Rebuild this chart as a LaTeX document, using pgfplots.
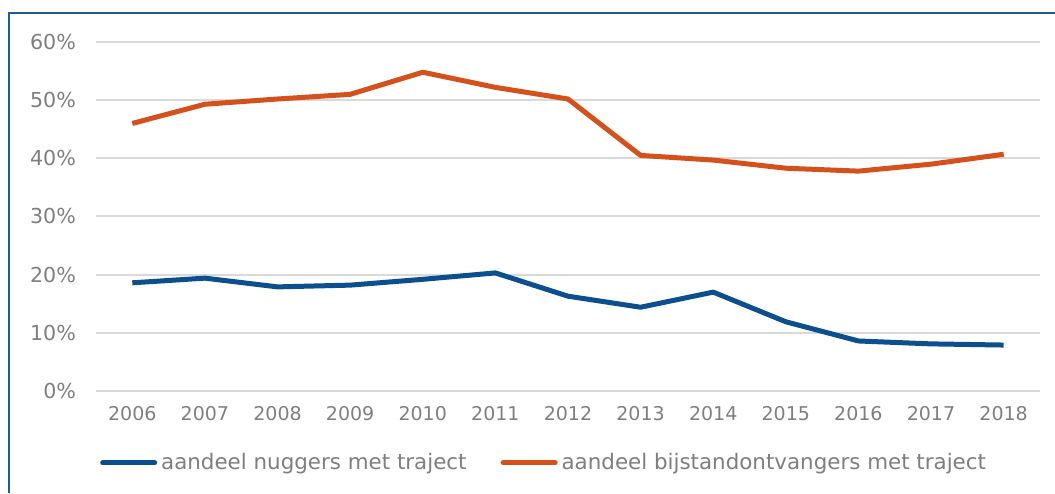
\documentclass[border=0pt]{standalone}
\usepackage{pgfplots}
\pgfplotsset{compat=1.18}
\usepackage{fontspec}
\setmainfont{DejaVu Sans}
\definecolor{nblue}{HTML}{0B4F8E}
\definecolor{norange}{HTML}{D5511C}
\definecolor{txtgray}{HTML}{7F7F7F}
\definecolor{gridgray}{HTML}{D9D9D9}
\definecolor{framblue}{HTML}{1F5C9E}
\begin{document}
\begin{tikzpicture}
% 1 px of the reference = 0.5pt
\path[use as bounding box] (0pt,0pt) rectangle (527.5pt,246.5pt);
\draw[framblue,line width=1pt] (4.25pt,0pt) -- (4.25pt,240pt) -- (527.5pt,240pt);
\begin{axis}[
  at={(48pt,51pt)},anchor=south west,
  scale only axis,width=472pt,height=174.5pt,
  xmin=2005.5,xmax=2018.5,ymin=0,ymax=60,
  xtick={2006,...,2018},ytick={0,10,...,60},
  axis line style={draw=none},
  major tick length=0pt,
  ymajorgrids,
  grid style={gridgray,line width=1pt},
  tick label style={font=\fontsize{9.5}{11}\selectfont,text=txtgray},
  /pgf/number format/assume math mode=true,
  /pgf/number format/1000 sep={},
  yticklabel={\pgfmathprintnumber{\tick}\%},
  yticklabel style={xshift=-6.5pt,font=\fontsize{10.3}{12}\selectfont},
  xticklabel style={yshift=-4pt},
  legend style={at={(0.004,-0.206)},anchor=west,draw=none,
    font=\fontsize{10.7}{12}\selectfont,text=txtgray,
    legend columns=2,/tikz/every even column/.append style={column sep=15pt},
    inner sep=0pt},
  legend image code/.code={\draw[#1,line cap=round] (0pt,0pt) -- (26pt,0pt);},
]
\addplot[nblue,line width=2.5pt,line join=round] coordinates {
(2006,18.6) (2007,19.4) (2008,17.9) (2009,18.2) (2010,19.2) (2011,20.3)
(2012,16.3) (2013,14.4) (2014,17.0) (2015,11.9) (2016,8.6) (2017,8.1) (2018,7.9)};
\addlegendentry{aandeel nuggers met traject}
\addplot[norange,line width=2.5pt,line join=round] coordinates {
(2006,46.0) (2007,49.3) (2008,50.2) (2009,51.0) (2010,54.8) (2011,52.2)
(2012,50.2) (2013,40.5) (2014,39.7) (2015,38.3) (2016,37.8) (2017,39.0) (2018,40.7)};
\addlegendentry{aandeel bijstandontvangers met traject}
\end{axis}
\end{tikzpicture}
\end{document}
